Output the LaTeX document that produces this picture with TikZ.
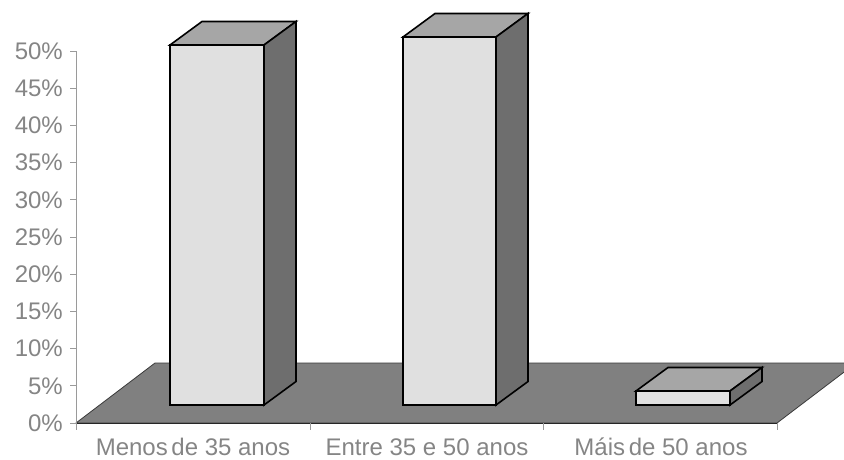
\documentclass[tikz,border=0pt]{standalone}
\usepackage{fontspec}
\setmainfont{Liberation Sans}
\definecolor{labelc}{HTML}{858585}
\definecolor{axisc}{HTML}{9A9A9A}
\definecolor{floorc}{HTML}{808080}
\definecolor{floorline}{HTML}{3A3A3A}
\definecolor{frontc}{HTML}{E0E0E0}
\definecolor{topc}{HTML}{A6A6A6}
\definecolor{sidec}{HTML}{6E6E6E}
\newcommand\drawbar[4]{%
  \filldraw[barline, fill=frontc] (#1,#3) rectangle (#2,#4);
  \filldraw[barline, fill=topc] (#1,#3) -- (#1+32,#3-23.5) -- (#2+32,#3-23.5) -- (#2,#3) -- cycle;
  \filldraw[barline, fill=sidec] (#2,#3) -- (#2+32,#3-23.5) -- (#2+32,#4-23.5) -- (#2,#4) -- cycle;
}
\begin{document}
\begin{tikzpicture}[x=1pt,y=-1pt,
  lbl/.style={text=labelc, font=\fontsize{24}{28}\selectfont, inner sep=0pt},
  barline/.style={draw=black, line width=1.6pt, line join=miter},
  axisline/.style={draw=axisc, line width=0.9pt}]
\useasboundingbox (0,0) rectangle (844,459);
\clip (0,0) rectangle (844,459);
% floor
\filldraw[fill=floorc, draw=floorline, line width=0.8pt] (76,423) -- (155,363) -- (856,363) -- (777,423) -- cycle;
% value axis
\draw[axisline] (76,51) -- (76,423);
\foreach \k in {0,...,10} {
  \pgfmathsetmacro\yy{423-37.2*\k}
  \pgfmathtruncatemacro\pc{5*\k}
  \draw[axisline] (70,\yy) -- (76,\yy);
  \node[lbl, anchor=east] (t\k) at (63,\yy) {\pc\%};
}
\draw[black!85, line width=1pt] (76,423) -- (777,423);
% category ticks
\foreach \xx in {76,310,543,777} \draw[axisline] (\xx,423) -- (\xx,430);
% bars
\drawbar{170}{264}{45}{405}
\drawbar{403}{496}{37}{405}
\drawbar{636}{730}{391}{405}
% category labels
\node[lbl, anchor=base] (c1) at (193,455) {Menos\kern-3pt\ de 35 anos};
\node[lbl, anchor=base] (c2) at (427,455) {Entre 35 e 50 anos};
\node[lbl, anchor=base] (c3) at (661,455) {Máis\kern-3pt\ de 50 anos};
\end{tikzpicture}
\end{document}
